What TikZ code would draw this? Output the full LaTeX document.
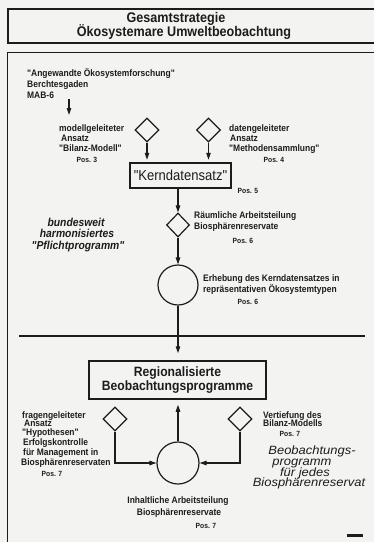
\documentclass[tikz,border=0pt]{standalone}
\usepackage{fontspec}
\newfontfamily\cond[FakeStretch=0.9]{Liberation Sans}
\newfontfamily\wide[FakeStretch=1.08]{Liberation Sans}
\usetikzlibrary{shapes.geometric,arrows.meta}
\definecolor{ink}{HTML}{1C1C1C}
\definecolor{paper}{HTML}{F3F3F1}

\tikzset{
  lbl/.style={text=ink, inner sep=0pt, anchor=base west,
    font=\cond\bfseries\fontsize{9.4}{10}\selectfont},
  lblc/.style={lbl, anchor=base},
  poslbl/.style={text=ink, inner sep=0pt, anchor=base,
    font=\cond\bfseries\fontsize{7.5}{8}\selectfont},
  headtxt/.style={text=ink, inner sep=0pt, anchor=base,
    font=\cond\bfseries\fontsize{14}{14}\selectfont},
  slogan/.style={text=ink, inner sep=0pt, anchor=base,
    font=\cond\bfseries\itshape\fontsize{11.5}{12}\selectfont},
  slogantwo/.style={text=ink, inner sep=0pt, anchor=base,
    font=\wide\itshape\fontsize{12}{12}\selectfont},
  framebox/.style={draw=ink, line width=1.6pt, inner sep=0pt},
  keybox/.style={draw=ink, line width=1.5pt, inner sep=0pt, align=center, text=ink},
  dia/.style={diamond, draw=ink, line width=1.2pt, aspect=1,
    minimum width=24pt, minimum height=24pt, inner sep=0pt},
  ring/.style={circle, draw=ink, line width=1.2pt, inner sep=0pt},
  conn/.style={draw=ink, line width=1.1pt},
  arr/.style={conn, -{Triangle[length=7pt,width=4.5pt]}},
}

\begin{document}
\begin{tikzpicture}[x=1pt,y=-1pt]
\useasboundingbox (0,0) rectangle (374,542);
\clip (0,0) rectangle (374,542);
\fill[paper] (0,0) rectangle (374,542);

% header box and panel (both run past the right edge of the sheet)
\node[framebox, anchor=north west, minimum width=380pt, minimum height=34pt] (head) at (7,8) {};
\node[headtxt] (head1) at (176,22.5) {Gesamtstrategie};
\node[headtxt] (head2) at (184,36.5) {Ökosystemare Umweltbeobachtung};
\node[framebox, line width=1.4pt, anchor=north west, minimum width=380pt, minimum height=500pt] (panel) at (7,52) {};

% source of the approach
\node[lbl] (src1) at (27,76) {"Angewandte Ökosystemforschung"};
\node[lbl] (src2) at (27,87) {Berchtesgaden};
\node[lbl] (src3) at (27,98.5) {MAB-6};
\coordinate (srcA) at (69,99);
\coordinate (srcB) at (69,115);
\draw[arr] (srcA) -- (srcB);

% two approaches feeding the core data set
\node[dia] (d1) at (147,130) {};
\node[dia] (d2) at (208.5,130) {};
\node[lbl] (m1) at (59,131) {modellgeleiteter};
\node[lbl] (m2) at (61,141) {Ansatz};
\node[lbl] (m3) at (59,151) {"Bilanz-Modell"};
\node[poslbl] (m4) at (87,162.5) {Pos. 3};
\node[lbl] (n1) at (229,131) {datengeleiteter};
\node[lbl] (n2) at (230,141) {Ansatz};
\node[lbl] (n3) at (229,151) {"Methodensammlung"};
\node[poslbl] (n4) at (274,162.5) {Pos. 4};

\node[keybox, minimum width=101pt, minimum height=25pt,
  font=\cond\fontsize{14.5}{15}\selectfont] (kern) at (180.5,175.5) {"Kerndatensatz"};
\node[poslbl] (p5) at (248,193.5) {Pos. 5};
\draw[arr, shorten >=2.5pt] (d1.south) -- (d1.south |- kern.north);
\draw[arr, shorten >=2.5pt] (d2.south) -- (d2.south |- kern.north);

% spatial division of labour
\node[dia, minimum width=23pt] (d3) at (178,225) {};
\draw[arr] (d3.north |- kern.south) -- (d3.north);
\node[lbl] (r1) at (194,218) {Räumliche Arbeitsteilung};
\node[lbl] (r2) at (194,229.5) {Biosphärenreservate};
\node[poslbl] (r3) at (243,243.5) {Pos. 6};

\node[slogan] (s1) at (76,226) {bundesweit};
\node[slogan] (s2) at (77,237) {harmonisiertes};
\node[slogan] (s3) at (78,249) {"Pflichtprogramm"};

% survey of the core data set
\node[ring, minimum size=40pt] (c1) at (178,285) {};
\draw[arr] (d3.south) -- (c1.north);
\node[lbl] (e1) at (203,281) {Erhebung des Kerndatensatzes in};
\node[lbl] (e2) at (203,292) {repräsentativen Ökosystemtypen};
\node[poslbl] (e3) at (248,304.5) {Pos. 6};

% separator
\coordinate (sepL) at (19,336);
\coordinate (sepR) at (365,336);
\draw[conn, line width=1.3pt] (sepL) -- (sepR);

% regional programmes
\node[keybox, minimum width=177pt, minimum height=38pt,
  font=\cond\bfseries\fontsize{13.5}{14.5}\selectfont] (reg) at (177.5,380)
  {Regionalisierte\\Beobachtungsprogramme};
\draw[arr, shorten >=7pt] (c1.south) -- (c1.south |- reg.north);

\node[ring, minimum size=42pt] (c2) at (178,463) {};
\draw[arr, shorten >=5pt] (c2.north) -- (c2.north |- reg.south);
\node[dia] (d4) at (115,419) {};
\node[dia] (d5) at (240,419) {};
\draw[arr] (d4.south) |- (c2.west);
\draw[arr] (d5.south) |- (c2.east);

\node[lbl] (f1) at (22,418) {fragengeleiteter};
\node[lbl] (f2) at (24,426.5) {Ansatz};
\node[lbl] (f3) at (22,435) {"Hypothesen"};
\node[lbl] (f4) at (23,445.5) {Erfolgskontrolle};
\node[lbl] (f5) at (23,455.5) {für Management in};
\node[lbl] (f6) at (21,465.5) {Biosphärenreservaten};
\node[poslbl] (f7) at (52,476) {Pos. 7};

\node[lbl] (v1) at (263,418) {Vertiefung des};
\node[lbl] (v2) at (263,426.5) {Bilanz-Modells};
\node[poslbl] (v3) at (290,436) {Pos. 7};

\node[slogantwo] (b1) at (312,454.5) {Beobachtungs-};
\node[slogantwo] (b2) at (302,465.5) {programm};
\node[slogantwo] (b3) at (305,476) {für jedes};
\node[slogantwo] (b4) at (309,486.5) {Biosphärenreservat};

\node[lblc] (i1) at (178,503) {Inhaltliche Arbeitsteilung};
\node[lblc] (i2) at (179,515) {Biosphärenreservate};
\node[poslbl] (i3) at (206,528) {Pos. 7};

% printer's mark
\fill[ink] (347,534) rectangle (363,536.5);
\end{tikzpicture}
\end{document}
